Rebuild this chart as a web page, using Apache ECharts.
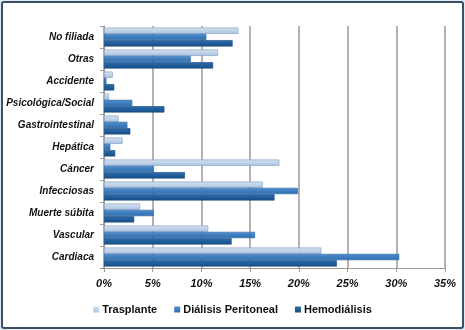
<!DOCTYPE html>
<html>
<head>
<meta charset="utf-8">
<script src="https://cdn.jsdelivr.net/npm/echarts@6/dist/echarts.min.js"></script>
<style>
    html, body { margin: 0; padding: 0; background: #dfe9f3; }
    #frame {
        position: absolute; left: 1px; top: 1px; width: 459px; height: 324px;
        border: 2px solid #3b4f66; border-radius: 3px; background: #fff;
    }
    #chart { width: 459px; height: 324px; }
</style>
</head>
<body>
<div id="frame"><div id="chart"></div></div>
<script>
    // categorias (de abajo hacia arriba)
    let causas = ['Cardiaca', 'Vascular', 'Muerte súbita', 'Infecciosas', 'Cáncer', 'Hepática',
        'Gastrointestinal', 'Psicológica/Social', 'Accidente', 'Otras', 'No filiada'];
    let trasplante = [22.3, 10.7, 3.7, 16.3, 18.0, 1.9, 1.5, 0.5, 0.9, 11.7, 13.8];
    let dialisisPeritoneal = [30.3, 15.5, 5.1, 19.9, 5.1, 0.65, 2.4, 2.9, 0.25, 8.9, 10.5];
    let hemodialisis = [23.9, 13.1, 3.1, 17.5, 8.3, 1.15, 2.7, 6.2, 1.05, 11.2, 13.2];

    let myChart = echarts.init(document.getElementById('chart'));

    let grad = function (top, bottom) {
        return new echarts.graphic.LinearGradient(0, 0, 0, 1, [
            {offset: 0, color: top},
            {offset: 1, color: bottom}
        ]);
    };

    let barSerie = function (name, data, color, border) {
        return {
            name: name,
            type: 'bar',
            data: data,
            barGap: '0%',
            barCategoryGap: '14%',
            itemStyle: {color: color, borderColor: border, borderWidth: 0.6}
        };
    };

    let option = {
        animation: false,
        textStyle: {fontFamily: 'Liberation Sans'},
        grid: {left: 101, right: 17, top: 23, bottom: 59},
        legend: {
            data: ['Trasplante', 'Diálisis Peritoneal', 'Hemodiálisis'],
            bottom: 7,
            left: 'center',
            itemWidth: 6,
            itemHeight: 6,
            itemGap: 17,
            icon: 'rect',
            itemStyle: {borderWidth: 0},
            textStyle: {fontSize: 11, fontWeight: 'bold', color: '#111', padding: [0, 0, 0, -2]}
        },
        xAxis: {
            type: 'value',
            min: 0,
            max: 35,
            interval: 5,
            axisLine: {show: true, lineStyle: {color: '#999'}},
            axisTick: {show: true, length: 4, lineStyle: {color: '#999'}},
            splitLine: {show: true, lineStyle: {color: '#9a9a9a', width: 1.5}},
            axisLabel: {
                formatter: '{value}%',
                fontSize: 11, fontWeight: 'bold', fontStyle: 'italic', color: '#111', margin: 10
            }
        },
        yAxis: {
            type: 'category',
            data: causas,
            axisLine: {show: true, lineStyle: {color: '#999'}},
            axisTick: {show: true, length: 4, lineStyle: {color: '#999'}},
            axisLabel: {fontSize: 10, fontWeight: 'bold', fontStyle: 'italic', color: '#111', margin: 10}
        },
        series: [
            barSerie('Trasplante', trasplante, grad('#d6e3f1', '#a9c1df'), '#7f9cc2'),
            barSerie('Diálisis Peritoneal', dialisisPeritoneal, grad('#4f8fcf', '#2e6cae'), '#2a62a0'),
            barSerie('Hemodiálisis', hemodialisis, grad('#2a6cae', '#174f89'), '#15477c')
        ]
    };
    myChart.setOption(option);
</script>
</body>
</html>
